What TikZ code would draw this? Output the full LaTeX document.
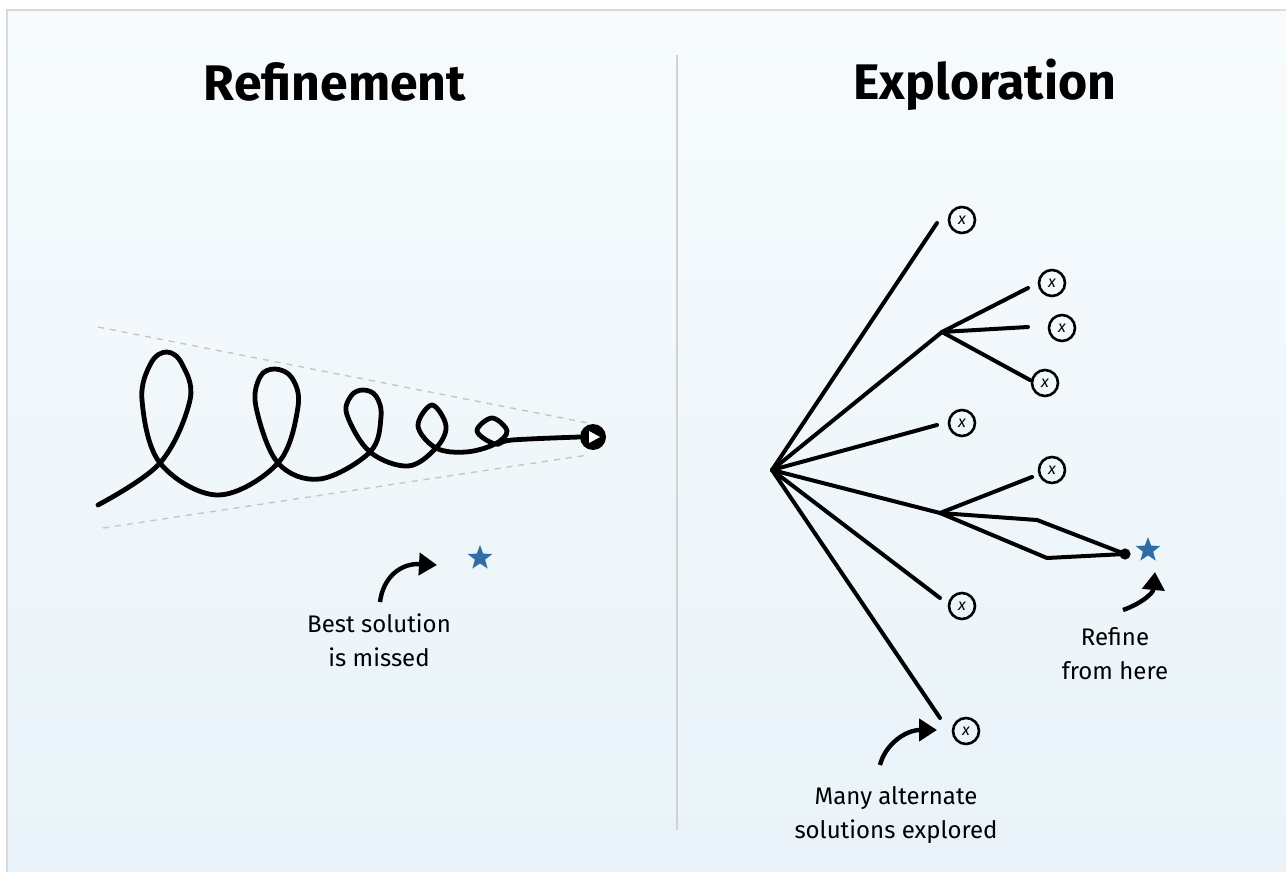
\documentclass[tikz,border=0pt]{standalone}
\usepackage{fontspec}
\setmainfont{Fira Sans}
\usetikzlibrary{arrows.meta,shapes.geometric}
\definecolor{starblue}{HTML}{2E6DA8}
\definecolor{bgtop}{HTML}{F7FBFD}
\definecolor{bgbot}{HTML}{E9F3F9}
\definecolor{framegray}{HTML}{D6DBDE}
\begin{document}
\begin{tikzpicture}[x=0.5pt,y=-0.5pt,
    ink/.style={line width=2pt,line cap=round,line join=round},
    guide/.style={gray!45,line width=0.7pt,dash pattern=on 3pt off 3pt},
    xnode/.style={circle,draw,line width=1.3pt,inner sep=0pt,
      minimum size=13pt,font=\footnotesize\itshape},
    goal/.style={star,star points=5,star point ratio=2.4,
      fill=starblue,inner sep=0pt,minimum size=13pt},
    hand/.style={line width=2.2pt,-{Triangle[length=9pt,width=11pt]}},
    note/.style={font=\fontsize{12}{17}\selectfont,align=center},
    title/.style={font=\fontsize{25}{30}\selectfont\bfseries}]
  \useasboundingbox (0,0) rectangle (1286,872);
  % Fondo
  \shade[top color=bgtop,bottom color=bgbot] (7,10) rectangle (1286,872);
  \draw[framegray,line width=0.8pt] (7,872)--(7,10)--(1286,10);
  \draw[gray!35,line width=0.6pt] (677,55)--(677,830);

  % Titulos
  \node[title] (reftitle) at (335,82) {Refinement};
  \node[title] (exptitle) at (985,85) {Exploration};

  % Refinamiento
  \draw[guide] (98,327)--(588,423);
  \draw[guide] (103,528)--(588,455);
  \node[circle,fill=black,minimum size=13pt,inner sep=0pt] (tip) at (593,437) {};
  \fill[white] (tip.center) ++(-2pt,3pt) -- ++(5.5pt,-3pt) -- ++(-5.5pt,-3pt) -- cycle;
  \draw[ink,line width=2.4pt] plot[smooth,tension=0.6] coordinates {
    (98,505) (160,463) (190,400) (182,364) (167,352) (151,363) (142,400) (160,463)
    (218,495) (278,463) (298,407) (292,378) (275,369) (260,377) (256,407) (278,463)
    (320,479) (370,452) (381,417) (376,396) (363,390) (351,396) (347,415) (370,452)
    (408,466) (436,448) (446,426) (432,405) (418,426) (436,448)
    (466,452) (495,444) (507,431) (492,418) (477,431) (495,444)
    (512,440) (tip.west)};
  \node[goal] (best) at (480,558) {};
  \coordinate (bt) at (380,602);
  \coordinate (bh) at (437,565);
  \draw[hand] (bt) .. controls (383,578) and (400,563) .. (bh);
  \node[note] (bestlbl) at (379,640) {Best solution\\is missed};

  % Exploracion
  \coordinate (root) at (772,470);
  \coordinate (fa) at (942,332);
  \coordinate (fb) at (940,513);
  \node[xnode] (x1) at (962,220) {x};
  \node[xnode] (x2) at (1052,283) {x};
  \node[xnode] (x3) at (1062,328) {x};
  \node[xnode] (x4) at (1045,383) {x};
  \node[xnode] (x5) at (962,423) {x};
  \node[xnode] (x6) at (1052,470) {x};
  \node[xnode] (x7) at (962,606) {x};
  \node[xnode] (x8) at (966,731) {x};
  \coordinate (e1) at (937,223);
  \coordinate (e2) at (1028,288);
  \coordinate (e3) at (1028,327);
  \coordinate (e4) at (1030,380);
  \coordinate (e5) at (937,425);
  \coordinate (e6) at (1032,477);
  \coordinate (e7) at (940,598);
  \coordinate (e8) at (940,718);
  \draw[ink] (root)--(e1);
  \draw[ink] (root)--(fa);
  \draw[ink] (fa)--(e2);
  \draw[ink] (fa)--(e3);
  \draw[ink] (fa)--(e4);
  \draw[ink] (root)--(e5);
  \draw[ink] (root)--(fb);
  \draw[ink] (fb)--(e6);
  \draw[ink] (root)--(e7);
  \draw[ink] (root)--(e8);
  % Rama elegida
  \coordinate (fin) at (1125,554);
  \draw[ink] (fb)--(1037,520)--(fin);
  \draw[ink] (fb)--(1047,558)--(fin);
  \fill (fin) circle (2.8pt);
  \node[goal] (found) at (1148,550) {};

  % Notas
  \coordinate (rt) at (1123,610);
  \coordinate (rh) at (1155,572);
  \draw[hand] (rt) .. controls (1140,604) and (1153,594) .. (rh);
  \node[note] (reflbl) at (1115,654) {Refine\\from here};
  \coordinate (mt) at (880,765);
  \coordinate (mh) at (937,730);
  \draw[hand] (mt) .. controls (885,745) and (905,730) .. (mh);
  \node[note] (manylbl) at (896,815) {Many alternate\\solutions explored};
\end{tikzpicture}
\end{document}
